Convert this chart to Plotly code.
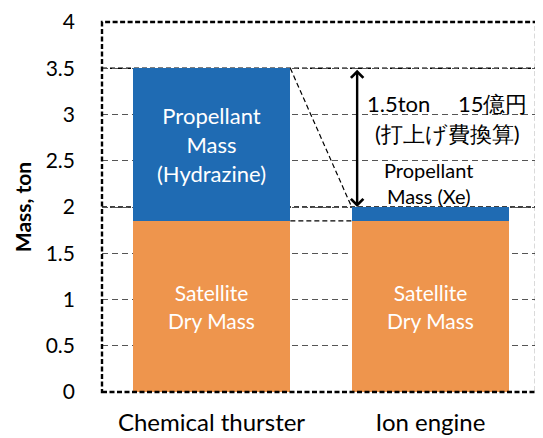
import plotly.graph_objects as go

categories = ["Chemical thurster", "Ion engine"]
dry_mass = [1.85, 1.85]
propellant_mass = [1.65, 0.15]
dry_labels = ["Satellite<br>Dry Mass", "Satellite<br>Dry Mass"]
prop_labels = ["Propellant<br>Mass<br>(Hydrazine)", ""]
y_ticks = [0, 0.5, 1, 1.5, 2, 2.5, 3, 3.5, 4]
y_tick_text = ["0", "0.5", "1", "1.5", "2", "2.5", "3", "3.5", "4"]

FONT = "Lato, 'Noto Sans', sans-serif"
BLUE = "#1F6BB3"
ORANGE = "#EE954D"
BW = 0.72

fig = go.Figure()
fig.add_trace(go.Bar(
    x=categories, y=dry_mass, marker=dict(color=ORANGE, line=dict(width=0)),
    text=dry_labels, textposition="inside", insidetextanchor="middle", textangle=0,
    constraintext="none",
    textfont=dict(color="white", size=21, family=FONT), width=BW,
    hoverinfo="skip"))
fig.add_trace(go.Bar(
    x=categories, y=propellant_mass, marker=dict(color=BLUE, line=dict(width=0)),
    text=prop_labels, textposition="inside", insidetextanchor="middle", textangle=0,
    constraintext="none",
    textfont=dict(color="white", size=22, family=FONT), width=BW,
    hoverinfo="skip"))

chem_top = dry_mass[0] + propellant_mass[0]
ion_top = dry_mass[1] + propellant_mass[1]
x_chem_r = 0 + BW / 2
x_ion_l = 1 - BW / 2

shapes = [
    dict(type="line", xref="paper", yref="y", x0=0, x1=1, y0=chem_top, y1=chem_top,
         line=dict(color="black", width=1.3, dash="5px,3px"), layer="below"),
    dict(type="line", xref="paper", yref="y", x0=0, x1=1, y0=ion_top, y1=ion_top,
         line=dict(color="black", width=1.3, dash="5px,3px"), layer="below"),
    dict(type="line", xref="x", yref="y", x0=x_chem_r, x1=x_ion_l, y0=dry_mass[0], y1=dry_mass[1],
         line=dict(color="black", width=1.3, dash="5px,3px"), layer="below"),
    dict(type="line", xref="x", yref="y", x0=x_chem_r, x1=x_ion_l, y0=chem_top, y1=ion_top,
         line=dict(color="black", width=1.2, dash="5px,3px"), layer="above"),
    dict(type="rect", xref="paper", yref="paper", x0=0, x1=0.991, y0=0, y1=1,
         line=dict(color="black", width=2.4, dash="5px,2.5px"), layer="above"),
]

annotations = [
    dict(x=x_ion_l + 0.025, y=ion_top, ax=x_ion_l + 0.025, ay=chem_top, xref="x", yref="y",
         axref="x", ayref="y", showarrow=True, arrowhead=4, startarrowhead=4,
         arrowside="end+start", arrowwidth=2.4, arrowsize=1, startarrowsize=1,
         arrowcolor="black", text="", standoff=0, startstandoff=0),
    dict(x=1.075, y=3.12, xref="x", yref="y", showarrow=False,
         text="1.5ton\u3000 15億円", font=dict(size=22, color="black", family=FONT)),
    dict(x=1.078, y=2.80, xref="x", yref="y", showarrow=False,
         text="(打上げ費換算)", font=dict(size=22, color="black", family=FONT)),
    dict(x=0.993, y=2.255, xref="x", yref="y", showarrow=False,
         text="Propellant<br>Mass (Xe)", font=dict(size=20, color="black", family=FONT)),
]

fig.update_layout(
    width=535, height=430,
    margin=dict(l=94, r=3, t=14, b=46),
    barmode="stack", bargap=0.28,
    plot_bgcolor="white", paper_bgcolor="white",
    showlegend=False,
    font=dict(family=FONT, color="black"),
    shapes=shapes, annotations=annotations,
    xaxis=dict(range=[-0.5, 1.5], showgrid=False, showline=False, zeroline=False,
               ticks="", tickfont=dict(size=24, color="black", family=FONT),
               ticklabelstandoff=14, automargin=False),
    yaxis=dict(range=[0, 4], tickvals=y_ticks, ticktext=y_tick_text,
               showgrid=True, gridcolor="#555555", gridwidth=1, griddash="6px,4px",
               zeroline=False, showline=False, ticks="",
               tickfont=dict(size=21, color="black", family=FONT),
               ticklabelstandoff=26, automargin=False,
               title=dict(text="<b>Mass, ton</b>", font=dict(size=21, color="black", family=FONT),
                          standoff=8)),
)

fig.write_html("out.html")
